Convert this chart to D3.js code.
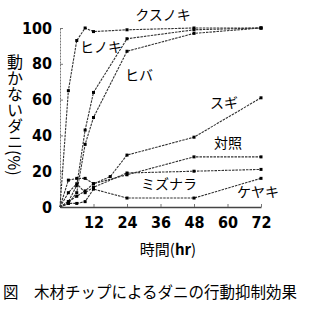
<!DOCTYPE html>
<html>
<head>
<meta charset="utf-8">
<script src="https://cdn.jsdelivr.net/npm/d3@7"></script>
<style>
  body { margin: 0; background: #fff; }
  svg { display: block; }
</style>
</head>
<body>
<svg width="313" height="313"></svg>
<script>
// hours of measurement
const hours = [0, 3, 6, 9, 12, 24, 48, 72];
const sugiHours = [0, 3, 6, 9, 12, 18, 24, 48, 72];

// percentage of immobile mites
const kusunoki = [0, 65, 93, 100, 98, 99, 100, 100];
const hinoki = [0, 3, 12, 43, 64, 94, 99, 100];
const hiba = [0, 2, 8, 35, 50, 87, 97, 100];
const sugi = [0, 3, 6, 9, 13, 17, 29, 39, 61];
const taisho = [0, 15, 16, 16, 13, 18, 28, 28];
const mizunara = [0, 8, 13, 8, 11, 19, 20, 21];
const keyaki = [0, 2, 2, 3, 10, 5, 5, 16];

const seriesNames = ['クスノキ', 'ヒノキ', 'ヒバ', 'スギ', '対照', 'ミズナラ', 'ケヤキ'];
const yTicks = [0, 20, 40, 60, 80, 100];
const xTicks = [12, 24, 36, 48, 60, 72];

const series = [
  { name: seriesNames[0], t: hours, v: kusunoki },
  { name: seriesNames[1], t: hours, v: hinoki },
  { name: seriesNames[2], t: hours, v: hiba },
  { name: seriesNames[3], t: sugiHours, v: sugi },
  { name: seriesNames[4], t: hours, v: taisho },
  { name: seriesNames[5], t: hours, v: mizunara },
  { name: seriesNames[6], t: hours, v: keyaki }
];

// label positions (text centre) for each series
const labelPos = {
  'クスノキ': [163, 15],
  'ヒノキ': [101, 47],
  'ヒバ': [139, 75],
  'スギ': [224, 103],
  '対照': [228, 143],
  'ミズナラ': [169, 184],
  'ケヤキ': [258, 192]
};

const svg = d3.select('svg');
const MARGIN = { TOP: 28, LEFT: 60 };
const WIDTH = 201;
const HEIGHT = 179;

const g = svg.append('g')
  .attr('transform', `translate(${MARGIN.LEFT}, ${MARGIN.TOP})`);

const x = d3.scaleLinear().domain([0, 72]).range([0, WIDTH]);
const y = d3.scaleLinear().domain([0, 100]).range([HEIGHT, 0]);

const numFont = '"Liberation Sans Narrow", "DejaVu Sans Condensed", sans-serif';
const jpFont = '"Noto Sans CJK JP", sans-serif';

// axes
const yAxis = g.append('g')
  .call(d3.axisLeft(y).tickValues(yTicks).tickSize(-3).tickSizeOuter(0).tickPadding(8));
const xAxis = g.append('g')
  .attr('transform', `translate(0, ${HEIGHT})`)
  .call(d3.axisBottom(x).tickValues(xTicks).tickSize(-3).tickSizeOuter(0).tickPadding(10));

yAxis.select('.domain').attr('stroke', '#777').attr('stroke-dasharray', '2,1');
xAxis.select('.domain').attr('stroke', '#444').attr('stroke-width', 1.3);
g.selectAll('.tick line').attr('stroke', '#777');
g.selectAll('.tick text')
  .style('font-family', numFont)
  .style('font-weight', 'bold')
  .style('font-size', '16px')
  .attr('fill', '#000');

// lines
const line = d3.line()
  .x(d => x(d[0]))
  .y(d => y(d[1]));

const layer = g.selectAll('.series')
  .data(series)
  .enter()
  .append('g')
  .attr('class', 'series');

layer.append('path')
  .attr('d', d => line(d.t.map((t, i) => [t, d.v[i]])))
  .attr('fill', 'none')
  .attr('stroke', '#333')
  .attr('stroke-width', 1.1)
  .attr('stroke-dasharray', '2.5,1');

layer.selectAll('rect')
  .data(d => d.t.map((t, i) => [t, d.v[i]]).filter(p => p[0] > 0))
  .enter()
  .append('rect')
  .attr('x', d => x(d[0]) - 1.5)
  .attr('y', d => y(d[1]) - 1.5)
  .attr('width', 3)
  .attr('height', 3)
  .attr('fill', '#000');

// series labels
svg.selectAll('.lbl')
  .data(series)
  .enter()
  .append('text')
  .attr('class', 'lbl')
  .attr('x', d => labelPos[d.name][0])
  .attr('y', d => labelPos[d.name][1])
  .attr('dy', '.35em')
  .attr('text-anchor', 'middle')
  .style('font-family', jpFont)
  .style('font-size', '14px')
  .text(d => d.name);

// y axis title (vertical)
svg.append('text')
  .attr('x', 15)
  .attr('y', 54)
  .style('writing-mode', 'vertical-rl')
  .style('font-family', jpFont)
  .style('font-size', '16px')
  .text('動かないダニ(%)');

// x axis title
const xt = svg.append('text')
  .attr('x', 168)
  .attr('y', 250)
  .attr('dy', '.35em')
  .attr('text-anchor', 'middle')
  .style('font-family', jpFont)
  .style('font-size', '15px');
xt.append('tspan').text('時間(');
xt.append('tspan').style('font-weight', 'bold').text('hr');
xt.append('tspan').text(')');

// caption
svg.append('text')
  .attr('x', 3)
  .attr('y', 293)
  .attr('dy', '.35em')
  .style('font-family', jpFont)
  .style('font-size', '15.5px')
  .text('図　木材チップによるダニの行動抑制効果');
</script>
</body>
</html>
